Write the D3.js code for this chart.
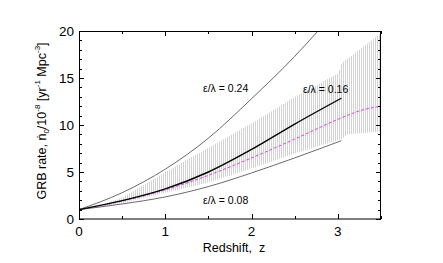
<!DOCTYPE html>
<html>
<head>
<meta charset="utf-8">
<script src="https://cdn.jsdelivr.net/npm/d3@7"></script>
<style>
  body { margin: 0; background: #fff; }
  text { font-family: "Liberation Sans", Arial, sans-serif; }
</style>
</head>
<body>
<div class="chart"></div>
<script>
// values
const zHigh = [0, 0.5, 1, 1.5, 2, 2.5, 2.77];          // eps/lambda = 0.24
const rateHigh = [1, 2.8, 5.3, 8.6, 12.8, 17.3, 20];
const zMid = [0, 0.5, 1, 1.5, 2, 2.5, 3.04];           // eps/lambda = 0.16
const rateMid = [1, 1.95, 3.2, 5.0, 7.4, 10.1, 12.85];
const zLow = [0, 0.5, 1, 1.5, 2, 2.5, 3.04];           // eps/lambda = 0.08
const rateLow = [1, 1.6, 2.35, 3.45, 4.9, 6.5, 8.33];
const zFit = [0, 0.5, 1, 1.5, 2, 2.5, 3, 3.25, 3.5];    // dashed magenta
const rateFit = [1, 1.9, 3.1, 4.65, 6.5, 8.5, 10.6, 11.5, 12.0];
const bandZ = [0.3, 0.5, 1, 1.5, 2, 2.5, 3, 3.04, 3.1, 3.5];   // hatched range
const bandLo = [1.4, 1.7, 2.8, 3.9, 5.4, 7.0, 8.4, 8.5, 9.0, 9.3];
const bandHi = [1.6, 2.3, 5.0, 7.6, 10.2, 13.0, 15.5, 16.6, 17.0, 19.8];

const xTicks = [0, 1, 2, 3];
const yTicks = [0, 5, 10, 15, 20];
const labels = [
  {name: "ε/λ = 0.24", z: 0.24},
  {name: "ε/λ = 0.16", z: 0.16},
  {name: "ε/λ = 0.08", z: 0.08}
];

const width = 443, height = 263;
const svg = d3.select(".chart").append("svg")
  .attr("width", width)
  .attr("height", height);

const x = d3.scaleLinear().domain([0, 3.5]).range([79, 381]);
const y = d3.scaleLinear().domain([0, 20]).range([219, 31]);

svg.append("clipPath").attr("id", "plot")
  .append("rect")
  .attr("x", 79).attr("y", 31)
  .attr("width", 302).attr("height", 188);

const g = svg.append("g").attr("clip-path", "url(#plot)");

// hatched band
const lo = d3.scaleLinear().domain(bandZ).range(bandLo);
const hi = d3.scaleLinear().domain(bandZ).range(bandHi);
const hatchX = d3.range(Math.round(x(bandZ[0])), x(bandZ[bandZ.length - 1]) + 0.1, 2);
g.selectAll(".hatch").data(hatchX).enter().append("line")
  .attr("class", "hatch")
  .attr("x1", d => d + 0.5)
  .attr("x2", d => d + 0.5)
  .attr("y1", d => y(lo(x.invert(d))))
  .attr("y2", d => y(hi(x.invert(d))))
  .attr("stroke", "#d2d2d2")
  .attr("stroke-width", 1);

function curve(zs, vs) {
  return d3.line()
    .x(i => x(zs[i]))
    .y(i => y(vs[i]))
    .curve(d3.curveMonotoneX)(d3.range(zs.length));
}

g.append("path").attr("d", curve(zHigh, rateHigh))
  .attr("fill", "none").attr("stroke", "#444").attr("stroke-width", 0.8);
g.append("path").attr("d", curve(zLow, rateLow))
  .attr("fill", "none").attr("stroke", "#444").attr("stroke-width", 0.8);
g.append("path").attr("d", curve(zFit, rateFit))
  .attr("fill", "none").attr("stroke", "#e040e8").attr("stroke-width", 1)
  .attr("stroke-dasharray", "3,2");
g.append("path").attr("d", curve(zMid, rateMid))
  .attr("fill", "none").attr("stroke", "#000").attr("stroke-width", 1.4);

// frame and ticks on all four sides
svg.append("rect")
  .attr("x", 79.5).attr("y", 31.5)
  .attr("width", 301).attr("height", 187.5)
  .attr("fill", "none").attr("stroke", "#000").attr("stroke-width", 1);

const xMinor = d3.range(0, 3.51, 0.5);
const yMinor = d3.range(0, 20.01, 1);
const ticks = svg.append("g").attr("stroke", "#000").attr("stroke-width", 1);
xMinor.forEach(v => {
  const len = Number.isInteger(v) ? 5 : 3;
  const px = Math.round(x(v)) + 0.5;
  ticks.append("line").attr("x1", px).attr("x2", px).attr("y1", 219).attr("y2", 219 - len);
  ticks.append("line").attr("x1", px).attr("x2", px).attr("y1", 31).attr("y2", 31 + len);
});
yMinor.forEach(v => {
  const len = v % 5 === 0 ? 5 : 3;
  const py = Math.round(y(v)) + 0.5;
  ticks.append("line").attr("x1", 79).attr("x2", 79 + len).attr("y1", py).attr("y2", py);
  ticks.append("line").attr("x1", 381).attr("x2", 381 - len).attr("y1", py).attr("y2", py);
});

svg.selectAll(".xt").data(xTicks).enter().append("text")
  .attr("x", d => x(d)).attr("y", 236)
  .attr("text-anchor", "middle")
  .attr("font-size", 13.5)
  .text(d => d);
svg.selectAll(".yt").data(yTicks).enter().append("text")
  .attr("x", 74).attr("y", d => y(d) + 5)
  .attr("text-anchor", "end")
  .attr("font-size", 13.5)
  .text(d => d);

svg.append("text")
  .attr("x", 234).attr("y", 252)
  .attr("text-anchor", "middle")
  .attr("font-size", 12.5)
  .attr("xml:space", "preserve")
  .text("Redshift,  z");

// y label with dot, sub and superscripts
const yl = svg.append("text")
  .attr("transform", "translate(46,121) rotate(-90)")
  .attr("text-anchor", "middle")
  .attr("font-size", 12.5);
yl.append("tspan").text("GRB rate,  ṅ");
yl.append("tspan").attr("font-size", 8).attr("dy", 3).text("0");
yl.append("tspan").attr("dy", -3).text("/10");
yl.append("tspan").attr("font-size", 8).attr("dy", -6).text("-8");
yl.append("tspan").attr("dy", 6).text(" [yr");
yl.append("tspan").attr("font-size", 8).attr("dy", -6).text("-1");
yl.append("tspan").attr("dy", 6).text(" Mpc");
yl.append("tspan").attr("font-size", 8).attr("dy", -6).text("-3");
yl.append("tspan").attr("dy", 6).text("]");

// curve labels
const labelPos = [[203, 92], [303, 93], [203, 204]];
svg.selectAll(".lab").data(labels).enter().append("text")
  .attr("x", (d, i) => labelPos[i][0])
  .attr("y", (d, i) => labelPos[i][1])
  .attr("font-size", 10.5)
  .text(d => d.name);
</script>
</body>
</html>
